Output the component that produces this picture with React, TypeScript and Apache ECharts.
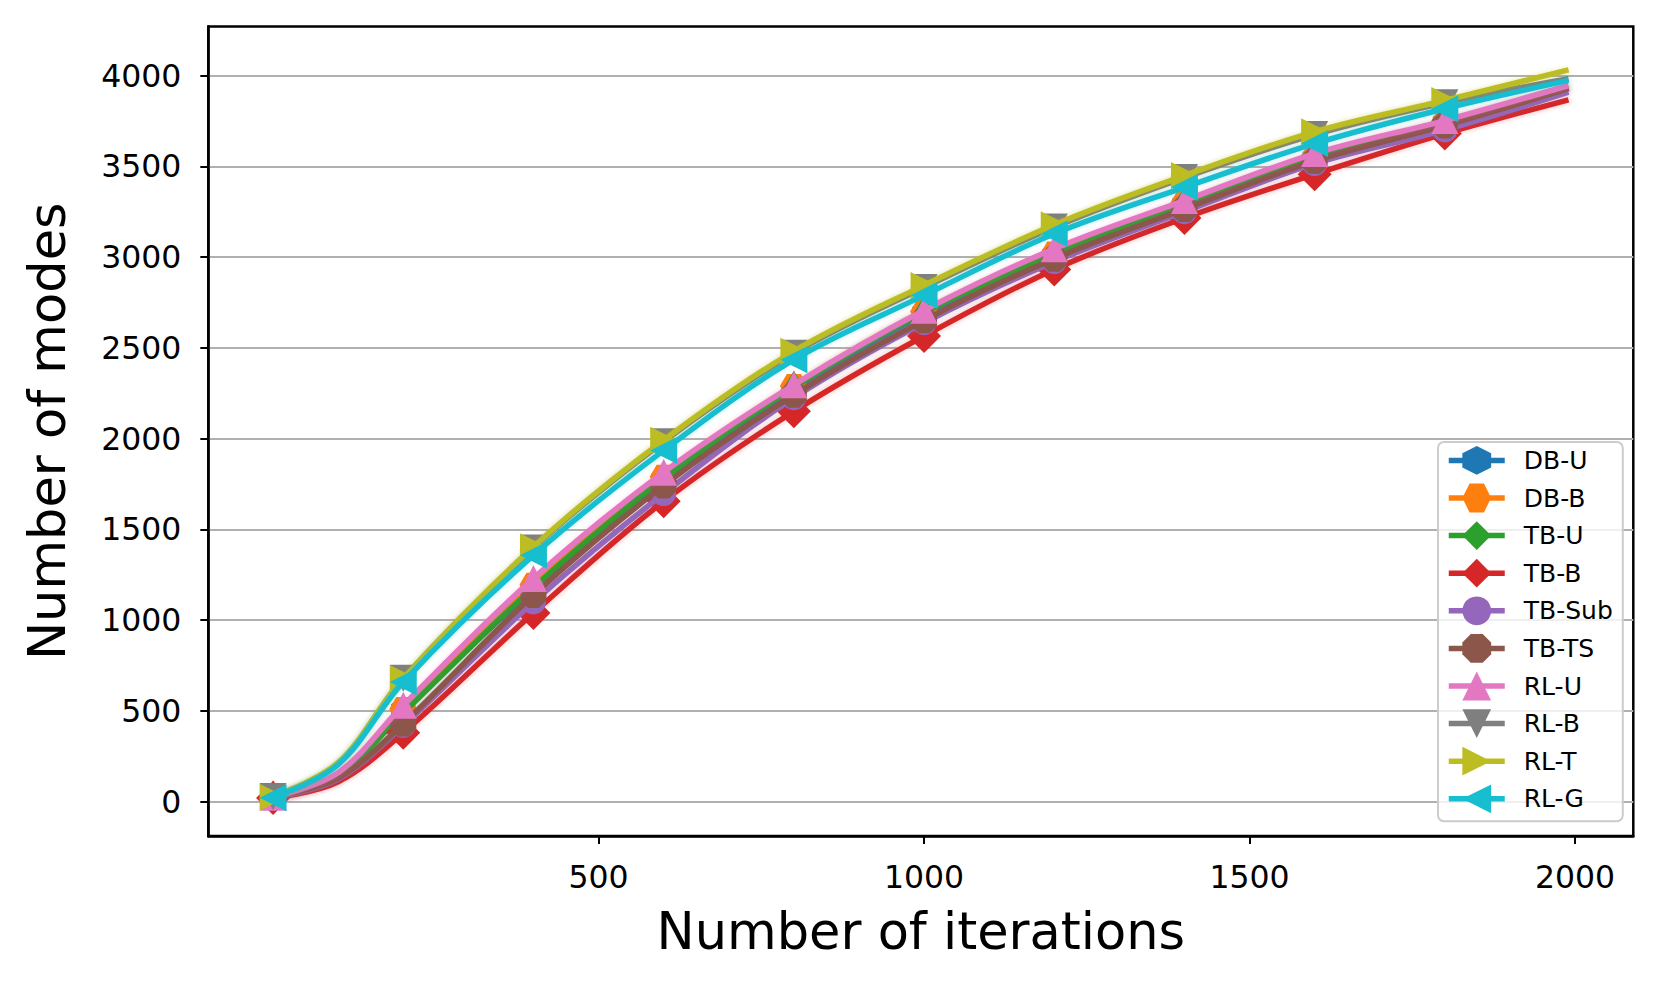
import React, { useEffect, useRef } from 'react';
import * as echarts from 'echarts';

// iterations at which values were read (markers every 200, line ends at 1990)
const iterations = [0, 100, 200, 400, 600, 800, 1000, 1200, 1400, 1600, 1800, 1990];
const markerIterations = [0, 200, 400, 600, 800, 1000, 1200, 1400, 1600, 1800];

const seriesNames = ['DB-U', 'DB-B', 'TB-U', 'TB-B', 'TB-Sub', 'TB-TS', 'RL-U', 'RL-B', 'RL-T', 'RL-G'];

const dbU = [24, 145, 500, 1172, 1770, 2270, 2685, 3005, 3285, 3540, 3735, 3930];
const dbB = [25, 150, 510, 1195, 1790, 2290, 2700, 3020, 3300, 3555, 3745, 3935];
const tbU = [25, 145, 490, 1180, 1780, 2282, 2695, 3012, 3295, 3550, 3740, 3933];
const tbB = [20, 110, 380, 1040, 1655, 2150, 2565, 2932, 3215, 3456, 3680, 3866];
const tbSub = [22, 125, 420, 1100, 1697, 2225, 2638, 2975, 3250, 3515, 3700, 3908];
const tbTS = [26, 130, 430, 1138, 1741, 2241, 2652, 2991, 3265, 3530, 3725, 3928];
const rlU = [25, 160, 531, 1230, 1815, 2296, 2707, 3046, 3311, 3570, 3752, 3945];
const rlB = [28, 212, 680, 1398, 1983, 2470, 2832, 3165, 3438, 3675, 3850, 3982];
const rlT = [25, 215, 678, 1404, 1991, 2481, 2844, 3178, 3449, 3690, 3863, 4031];
const rlG = [22, 205, 659, 1358, 1935, 2435, 2789, 3128, 3384, 3625, 3817, 3973];

const seriesValues = [dbU, dbB, tbU, tbB, tbSub, tbTS, rlU, rlB, rlT, rlG];

const xTicks = [500, 1000, 1500, 2000];
const yTicks = [0, 500, 1000, 1500, 2000, 2500, 3000, 3500, 4000];

const colors = ['#1f77b4', '#ff7f0e', '#2ca02c', '#d62728', '#9467bd', '#8c564b', '#e377c2', '#7f7f7f', '#bcbd22', '#17becf'];
const halos = ['rgba(31,119,180,0.25)', 'rgba(255,127,14,0.25)', 'rgba(44,160,44,0.25)', 'rgba(214,39,40,0.35)', 'rgba(148,103,189,0.25)', 'rgba(140,86,75,0.25)', 'rgba(227,119,194,0.25)', 'rgba(127,127,127,0.25)', 'rgba(188,189,34,0.35)', 'rgba(23,190,207,0.25)'];

const HEX_POINTY = 'path://M0,-1L0.866,-0.5L0.866,0.5L0,1L-0.866,0.5L-0.866,-0.5Z';
const HEX_FLAT = 'path://M-1,0L-0.5,-0.866L0.5,-0.866L1,0L0.5,0.866L-0.5,0.866Z';
const OCTAGON = 'path://M0.383,-0.924L0.924,-0.383L0.924,0.383L0.383,0.924L-0.383,0.924L-0.924,0.383L-0.924,-0.383L-0.383,-0.924Z';
const TRI_UP = 'path://M0,-1L1,1L-1,1Z';
const TRI_DOWN = 'path://M-1,-1L1,-1L0,1Z';
const TRI_RIGHT = 'path://M-1,-1L1,0L-1,1Z';
const TRI_LEFT = 'path://M1,-1L-1,0L1,1Z';

const symbols = [HEX_POINTY, HEX_FLAT, 'diamond', 'diamond', 'circle', OCTAGON, TRI_UP, TRI_DOWN, TRI_RIGHT, TRI_LEFT];
const symbolSizes: any[] = [[24, 28], [28, 24], [20, 34], [34, 34], 25, 26, 27, 27, 27, 27];

const FONT = 'DejaVu Sans';

export default function App() {
  const ref = useRef<HTMLDivElement>(null);
  useEffect(() => {
    if (!ref.current) return;
    const chart = echarts.init(ref.current, undefined, { renderer: 'svg' });
    const series = seriesNames.map((name, i) => ({
      name,
      type: 'line',
      z: 2 + i,
      smooth: 0.35,
      symbol: symbols[i],
      symbolSize: symbolSizes[i],
      symbolKeepAspect: false,
      showAllSymbol: true,
      color: colors[i],
      lineStyle: { width: 5.5, color: colors[i], shadowColor: halos[i], shadowBlur: 5 },
      itemStyle: { color: colors[i] },
      data: iterations.map((it, k) =>
        markerIterations.includes(it)
          ? { value: [it, seriesValues[i][k]] }
          : { value: [it, seriesValues[i][k]], symbol: 'none' }
      ),
    }));

    chart.setOption({
      animation: false,
      backgroundColor: '#ffffff',
      textStyle: { fontFamily: FONT },
      grid: {
        left: 208.3,
        right: 27.7,
        top: 26.5,
        bottom: 151,
        show: true,
        borderColor: '#000',
        borderWidth: 2.5,
        backgroundColor: 'transparent',
      },
      legend: {
        orient: 'vertical',
        left: 1438,
        top: 442,
        data: seriesNames,
        itemWidth: 56,
        itemHeight: 36,
        itemGap: 8.8,
        padding: [4, 10, 8, 8],
        backgroundColor: 'rgba(255,255,255,0.8)',
        borderColor: '#cccccc',
        borderWidth: 2,
        borderRadius: 6,
        lineStyle: { width: 5.5, shadowBlur: 0, shadowColor: 'transparent' },
        textStyle: { fontFamily: FONT, fontSize: 25, color: '#000', padding: [0, 0, 0, 14] },
        selectedMode: false,
      },
      xAxis: {
        type: 'value',
        min: -99.5,
        max: 2089.5,
        name: 'Number of iterations',
        nameLocation: 'middle',
        nameGap: 70,
        nameTextStyle: { fontFamily: FONT, fontSize: 51, color: '#000' },
        axisLine: { show: true, onZero: false, lineStyle: { color: '#000', width: 2.5 } },
        axisTick: { show: true, length: 8, lineStyle: { color: '#000', width: 2 }, customValues: xTicks },
        axisLabel: { fontFamily: FONT, fontSize: 31.5, color: '#000', margin: 25, customValues: xTicks, formatter: (v: number) => String(v) },
        splitLine: { show: false },
      },
      yAxis: {
        type: 'value',
        min: -189,
        max: 4270,
        name: 'Number of modes',
        nameLocation: 'middle',
        nameGap: 135,
        nameTextStyle: { fontFamily: FONT, fontSize: 51, color: '#000' },
        axisLine: { show: true, onZero: false, lineStyle: { color: '#000', width: 2.5 } },
        axisTick: { show: true, length: 8, lineStyle: { color: '#000', width: 2 }, customValues: yTicks },
        axisLabel: { fontFamily: FONT, fontSize: 31.5, color: '#000', margin: 27, customValues: yTicks, formatter: (v: number) => String(v) },
        splitLine: { show: true, lineStyle: { color: '#b0b0b0', width: 2 } },
      },
      series,
    });
    return () => chart.dispose();
  }, []);
  return (
    <div
      ref={ref}
      style={{ position: 'fixed', left: 0, top: 0, width: 1661, height: 987, background: '#fff' }}
    />
  );
}
